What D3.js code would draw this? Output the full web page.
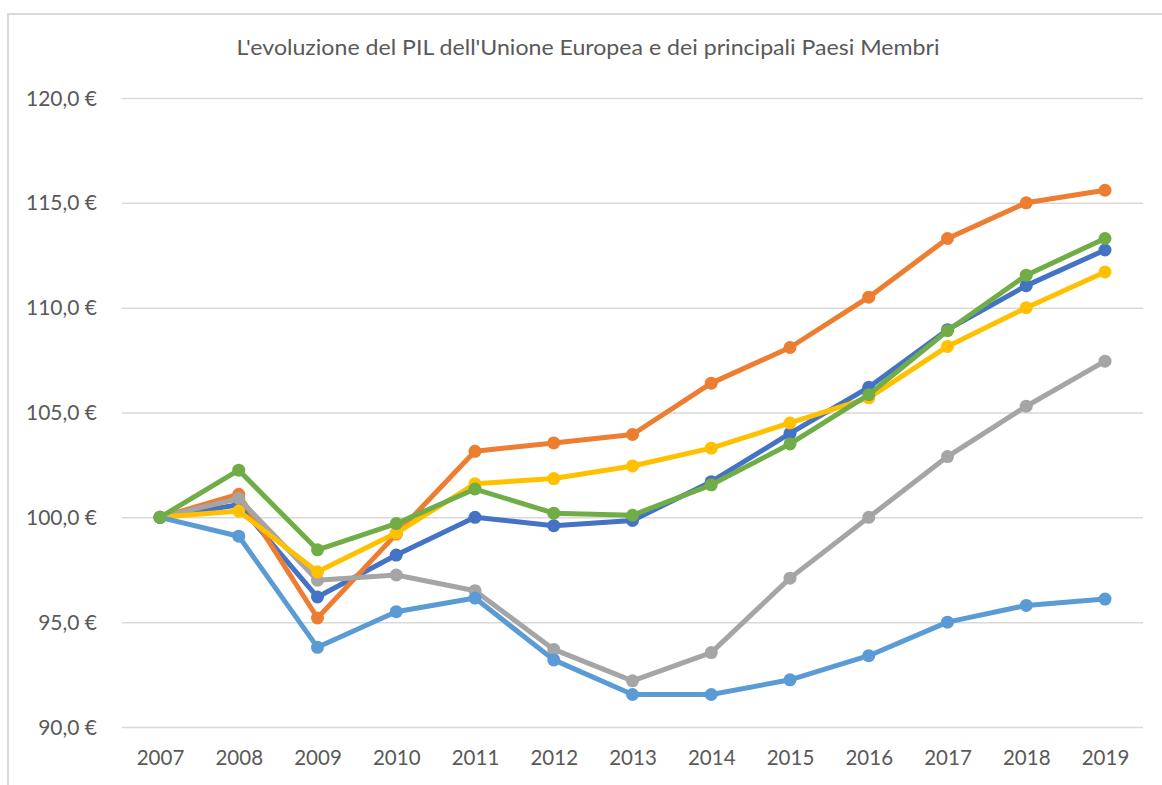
<!DOCTYPE html>
<html>
<head>
<meta charset="utf-8">
<script src="https://cdn.jsdelivr.net/npm/d3@7"></script>
<style>
  html, body { margin: 0; padding: 0; background: #fff; }
  svg { display: block; }
  text { font-family: Lato, "Open Sans", sans-serif; fill: #595959; }
</style>
</head>
<body>
<svg id="chart" width="1162" height="785"></svg>
<script>
// Real GDP index (2007 = 100)
const years = ["2007","2008","2009","2010","2011","2012","2013","2014","2015","2016","2017","2018","2019"];
const yTicks = [90, 95, 100, 105, 110, 115, 120];

const unioneEuropea = [100, 100.6, 96.2, 98.2, 100.0, 99.6, 99.85, 101.7, 104.0, 106.2, 108.95, 111.05, 112.75];
const germania      = [100, 101.1, 95.2, 99.2, 103.15, 103.55, 103.95, 106.4, 108.1, 110.5, 113.3, 115.0, 115.6];
const spagna        = [100, 100.9, 97.0, 97.25, 96.5, 93.7, 92.2, 93.55, 97.1, 100.0, 102.9, 105.3, 107.45];
const francia       = [100, 100.3, 97.4, 99.25, 101.6, 101.85, 102.45, 103.3, 104.5, 105.7, 108.15, 110.0, 111.7];
const italia        = [100, 99.1, 93.8, 95.5, 96.15, 93.2, 91.55, 91.55, 92.25, 93.4, 95.0, 95.8, 96.1];
const regnoUnito    = [100, 102.25, 98.45, 99.7, 101.35, 100.2, 100.1, 101.55, 103.5, 105.85, 108.9, 111.55, 113.3];

const seriesNames  = ["Unione Europea", "Germania", "Spagna", "Francia", "Italia", "Regno Unito"];
const seriesValues = [unioneEuropea, germania, spagna, francia, italia, regnoUnito];
const seriesColors = ["#4472C4", "#ED7D31", "#A5A5A5", "#FFC000", "#5B9BD5", "#70AD47"];

const svg = d3.select("#chart");

// chart frame
svg.append("path")
  .attr("d", "M1162,14 H8 V785")
  .attr("fill", "none")
  .attr("stroke", "#d9d9d9")
  .attr("stroke-width", 2);

svg.append("text")
  .attr("x", 588).attr("y", 55)
  .attr("text-anchor", "middle")
  .attr("textLength", 703)
  .attr("lengthAdjust", "spacingAndGlyphs")
  .style("font-size", "22px")
  .text("L'evoluzione del PIL dell'Unione Europea e dei principali Paesi Membri");

const x = d3.scalePoint().domain(years).range([160, 1105]);
const y = d3.scaleLinear().domain([90, 120]).range([727, 98]);

// horizontal gridlines + value labels
const fmt = v => d3.format(".1f")(v).replace(".", ",") + " €";
const yAxis = d3.axisLeft(y).tickValues(yTicks).tickSize(-(1143 - 122)).tickFormat(fmt).tickPadding(25);
const gy = svg.append("g").attr("transform", "translate(122,0)").call(yAxis);
gy.select(".domain").remove();
gy.selectAll(".tick line").attr("stroke", "#d9d9d9").attr("stroke-width", 1.5);
gy.selectAll(".tick text")
  .style("font-size", "21px")
  .attr("fill", "#595959")
  .attr("x", -25)
  .attr("dy", "0.34em");

// category axis labels
const xAxis = d3.axisBottom(x).tickSize(0).tickPadding(0);
const gx = svg.append("g").attr("transform", "translate(0,727)").call(xAxis);
gx.select(".domain").remove();
gx.selectAll(".tick text")
  .style("font-size", "20.5px")
  .attr("fill", "#595959")
  .attr("y", 38).attr("dy", 0);

const line = d3.line().x((d, i) => x(years[i])).y(d => y(d));

seriesValues.forEach((vals, s) => {
  const g = svg.append("g").attr("class", "series").attr("data-name", seriesNames[s]);
  g.append("path")
    .attr("d", line(vals))
    .attr("fill", "none")
    .attr("stroke", seriesColors[s])
    .attr("stroke-width", 5)
    .attr("stroke-linejoin", "round");
  g.selectAll("circle").data(vals).join("circle")
    .attr("cx", (d, i) => x(years[i]))
    .attr("cy", d => y(d))
    .attr("r", 6.5)
    .attr("fill", seriesColors[s]);
});
</script>
</body>
</html>
